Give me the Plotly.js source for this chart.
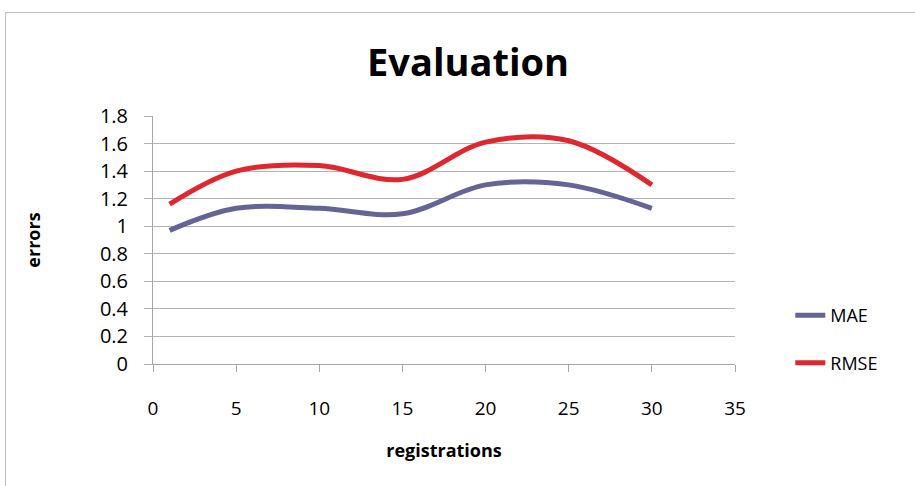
<!DOCTYPE html>
<html>
<head>
<meta charset="utf-8">
<script src="https://cdn.plot.ly/plotly-3.0.1.min.js"></script>
<style>
  html, body { margin: 0; padding: 0; background: #fff; overflow: hidden; }
  #frame { position: absolute; left: 5px; top: 12px; width: 930px; height: 490px; border-left: 1px solid #bdbdbd; border-top: 1px solid #bdbdbd; }
  #chart { position: absolute; left: 0; top: 0; width: 915px; height: 486px; }
</style>
</head>
<body>
<div id="frame"></div>
<div id="chart"></div>
<script>
const registrations = [1, 5, 10, 15, 20, 25, 30];
const maeValues  = [0.97, 1.13, 1.13, 1.09, 1.30, 1.30, 1.13];
const rmseValues = [1.16, 1.40, 1.44, 1.34, 1.61, 1.62, 1.30];
const seriesNames = ['MAE', 'RMSE'];
const xTicks = [0, 5, 10, 15, 20, 25, 30, 35];
const yTicks = [0, 0.2, 0.4, 0.6, 0.8, 1, 1.2, 1.4, 1.6, 1.8];

const font = 'Open Sans, Liberation Sans, sans-serif';

const traces = [
  { x: registrations, y: maeValues, name: seriesNames[0], type: 'scatter', mode: 'lines',
    line: { color: '#646497', width: 5, shape: 'spline', smoothing: 1 }, legendgroup: 'a' },
  { x: registrations, y: rmseValues, name: seriesNames[1], type: 'scatter', mode: 'lines',
    line: { color: '#e0262e', width: 5, shape: 'spline', smoothing: 1 }, legendgroup: 'b' }
];

const layout = {
  width: 915, height: 486,
  margin: { l: 153, r: 180, t: 116, b: 122 },
  paper_bgcolor: 'rgba(0,0,0,0)', plot_bgcolor: 'rgba(0,0,0,0)',
  font: { family: font, color: '#000', size: 18 },
  title: { text: '<b>Evaluation</b>', font: { family: font, size: 38, color: '#000' },
           x: 0.5115, xanchor: 'center', xref: 'container', y: 0.872, yanchor: 'middle' },
  xaxis: {
    range: [0, 35], tickvals: xTicks, ticktext: xTicks.map(String),
    showgrid: false, zeroline: false, showline: true, linecolor: '#a6a6a6', linewidth: 1,
    ticks: 'outside', ticklen: 7, tickcolor: '#a6a6a6', ticklabelstandoff: 20,
    tickfont: { family: font, size: 19 }, fixedrange: true,
    title: { text: '<b>registrations</b>', font: { family: font, size: 18 }, standoff: 24 }
  },
  yaxis: {
    range: [0, 1.8], tickvals: yTicks, ticktext: yTicks.map(v => String(v)),
    showgrid: true, gridcolor: '#b3b3b3', gridwidth: 1, zeroline: false,
    showline: true, linecolor: '#a6a6a6', linewidth: 1,
    ticks: 'outside', ticklen: 8, tickcolor: '#b3b3b3', ticklabelstandoff: 12,
    tickfont: { family: font, size: 20 }, fixedrange: true,
    title: { text: '<b>errors</b>', font: { family: font, size: 18 }, standoff: 54 }
  },
  showlegend: true,
  legend: { x: 1.095, xanchor: 'left', y: 0.27, yanchor: 'top', bgcolor: 'rgba(0,0,0,0)',
            font: { family: font, size: 18 }, traceorder: 'grouped', tracegroupgap: 21 }
};

Plotly.newPlot('chart', traces, layout, { displayModeBar: false, staticPlot: true });
</script>
</body>
</html>
